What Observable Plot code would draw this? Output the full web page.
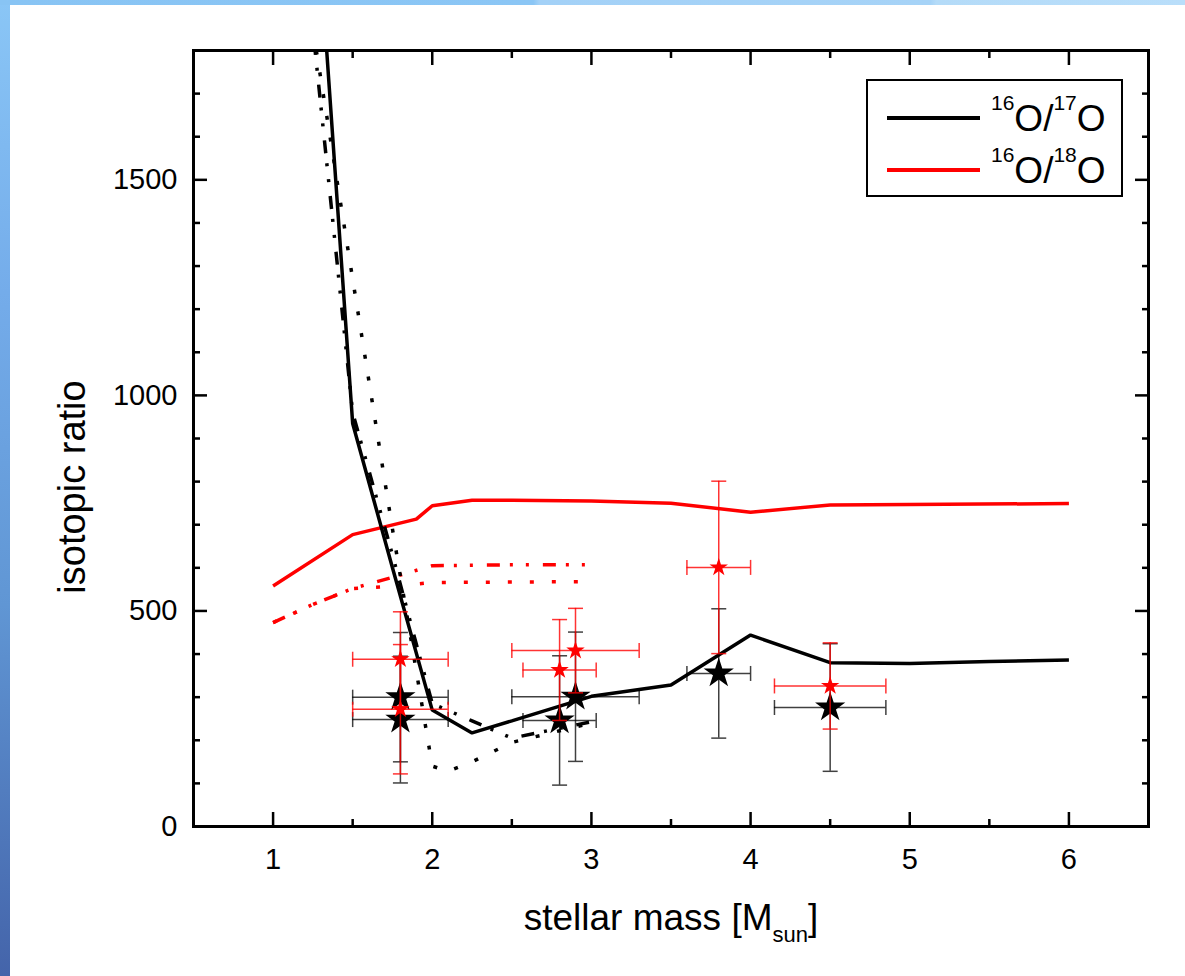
<!DOCTYPE html>
<html><head><meta charset="utf-8">
<script src="https://cdn.jsdelivr.net/npm/d3@7"></script>
<script src="https://cdn.jsdelivr.net/npm/@observablehq/plot@0.6"></script>
<style>
html,body{margin:0;padding:0;background:#fff;width:1185px;height:976px;overflow:hidden;}
#wrap{position:relative;width:1185px;height:976px;}
#chart{position:absolute;left:0;top:0;}
#overlay{position:absolute;left:0;top:0;}
#leftband{position:absolute;left:0;top:0;width:10px;height:976px;background:linear-gradient(#8ac6f6 0%,#74acea 30%,#6096d4 62%,#4464aa 100%);}
#topband{position:absolute;left:0;top:0;width:1185px;height:5px;background:linear-gradient(90deg,#88c4f4 0%,#8bc6f5 45%,#a3d1f7 45.5%,#a6d3f7 78.5%,#b4dbf8 79%,#b9defa 100%);}
</style></head>
<body><div id="wrap"><div id="chart"></div>
<svg id="overlay" width="1185" height="976" font-family="'Liberation Sans', Arial, sans-serif">
  <text x="671" y="930" font-size="37" text-anchor="middle">stellar mass [M<tspan font-size="22" dy="12">sun</tspan><tspan dy="-12">]</tspan></text>
  <text transform="translate(85,487) rotate(-90)" font-size="38" text-anchor="middle">isotopic ratio</text>
  <rect x="867" y="80" width="255" height="116" fill="#fff" stroke="#000" stroke-width="2"></rect>
  <line x1="887" x2="980" y1="118" y2="118" stroke="#000" stroke-width="4"></line>
  <line x1="887" x2="980" y1="170" y2="170" stroke="#ff0000" stroke-width="4"></line>
  <text x="991" y="131" font-size="37"><tspan font-size="21" dy="-21">16</tspan><tspan dy="21">O/</tspan><tspan font-size="21" dy="-21">17</tspan><tspan dy="21">O</tspan></text>
  <text x="991" y="183" font-size="37"><tspan font-size="21" dy="-21">16</tspan><tspan dy="21">O/</tspan><tspan font-size="21" dy="-21">18</tspan><tspan dy="21">O</tspan></text>
</svg>
<div id="leftband"></div><div id="topband"></div>
</div>
<script>
// ---- axis ticks ----
const xMajor = [1, 2, 3, 4, 5, 6];
const xMinor = [1.5, 2.5, 3.5, 4.5, 5.5];
const yMajor = [0, 500, 1000, 1500];
const yMinor = [100, 200, 300, 400, 600, 700, 800, 900, 1100, 1200, 1300, 1400, 1600, 1700];

// ---- 16O/17O model curves (black) ----
const solid17Mass = [1.25, 1.5, 1.75, 2.0, 2.25, 2.5, 3.0, 3.5, 4.0, 4.5, 5.0, 5.5, 6.0];
const solid17 = [2260, 935, 600, 270, 217, 245, 302, 328, 444, 380, 378, 383, 386];
const dashdot17Mass = [1.25, 1.5, 1.75, 2.0, 2.25, 2.5, 3.0];
const dashdot17 = [1850, 960, 630, 285, 245, 205, 243];
const dotted17Mass = [1.25, 1.5, 1.75, 2.0, 2.1, 2.25, 2.5, 3.0];
const dotted17 = [1850, 1270, 690, 140, 128, 150, 195, 240];

// ---- 16O/18O model curves (red) ----
const solid18Mass = [1.0, 1.5, 1.9, 2.0, 2.25, 2.5, 3.0, 3.5, 4.0, 4.5, 5.0, 6.0];
const solid18 = [558, 677, 713, 744, 757, 757, 755, 750, 729, 746, 747, 749];
const dashdot18Mass = [1.0, 1.25, 1.5, 1.75, 2.0, 2.5, 3.0];
const dashdot18 = [473, 515, 552, 578, 605, 607, 607];
const dotted18Mass = [1.0, 1.25, 1.5, 1.75, 2.0, 2.5, 3.0];
const dotted18 = [473, 515, 552, 557, 566, 567, 568];

// ---- observations (stars with error bars) ----
const obsMass = [1.8, 1.8, 2.8, 2.9, 3.8, 4.5];
const obsMassErr = [0.3, 0.3, 0.23, 0.4, 0.2, 0.35];
const obs17 = [300, 248, 246, 301, 355, 276];
const obs17Err = [150, 147, 150, 150, 150, 148];
const obs18 = [388, 272, 363, 408, 601, 326];
const obs18Err = [110, 150, 117, 98, 200, 100];

const toPts = (ms, vs) => ms.map((m, i) => ({m, v: vs[i]}));
const toObs = (vs, es) => obsMass.map((m, i) => ({m, v: vs[i], lo: vs[i] - es[i], hi: vs[i] + es[i], mlo: m - obsMassErr[i], mhi: m + obsMassErr[i]}));
const black = toObs(obs17, obs17Err);
const red = toObs(obs18, obs18Err);

const hcap = {draw(ctx, size) { const h = Math.sqrt(size / Math.PI); ctx.moveTo(-h, 0); ctx.lineTo(h, 0); }};
const vcap = {draw(ctx, size) { const h = Math.sqrt(size / Math.PI); ctx.moveTo(0, -h); ctx.lineTo(0, h); }};

const DASHDOT = "13 10 3 13 3 14";
const DOT = "4 18";
const LW = 3.5;
const lineOpts = (ms, vs, color, dash) => Plot.line(toPts(ms, vs), {
  x: "m", y: "v", stroke: color, strokeWidth: LW, strokeDasharray: dash, strokeLinecap: "butt", strokeLinejoin: "miter", clip: true
});

function errorMarks(data, color, op, starR) {
  return [
    Plot.ruleX(data, {x: "m", y1: "lo", y2: "hi", stroke: color, strokeWidth: 1.5, strokeOpacity: op}),
    Plot.ruleY(data, {y: "v", x1: "mlo", x2: "mhi", stroke: color, strokeWidth: 1.5, strokeOpacity: op}),
    Plot.dot(data, {x: "m", y: "hi", symbol: hcap, r: 7.5, stroke: color, fill: "none", strokeWidth: 1.5, strokeOpacity: op}),
    Plot.dot(data, {x: "m", y: "lo", symbol: hcap, r: 7.5, stroke: color, fill: "none", strokeWidth: 1.5, strokeOpacity: op}),
    Plot.dot(data, {x: "mlo", y: "v", symbol: vcap, r: 7.5, stroke: color, fill: "none", strokeWidth: 1.5, strokeOpacity: op}),
    Plot.dot(data, {x: "mhi", y: "v", symbol: vcap, r: 7.5, stroke: color, fill: "none", strokeWidth: 1.5, strokeOpacity: op}),
    Plot.dot(data, {x: "m", y: "v", symbol: "star", r: starR, fill: color, stroke: "none"})
  ];
}

const chart = Plot.plot({
  width: 1185, height: 976,
  marginLeft: 193, marginRight: 37, marginTop: 50, marginBottom: 150,
  style: {fontFamily: "'Liberation Sans', Arial, sans-serif", fontSize: "29px", color: "#000", background: "transparent"},
  x: {domain: [0.5, 6.5]},
  y: {domain: [0, 1800]},
  marks: [
    lineOpts(solid18Mass, solid18, "#ff0000", null),
    lineOpts(dashdot18Mass, dashdot18, "#ff0000", DASHDOT),
    lineOpts(dotted18Mass, dotted18, "#ff0000", DOT),
    lineOpts(dotted17Mass, dotted17, "#000", DOT),
    lineOpts(dashdot17Mass, dashdot17, "#000", DASHDOT),
    lineOpts(solid17Mass, solid17, "#000", null),
    ...errorMarks(black, "#000", 0.75, 9.5),
    ...errorMarks(red, "#ff0000", 0.8, 5.8),
    // inward ticks on all four sides
    Plot.axisX({anchor: "bottom", ticks: xMajor, tickSize: -14, strokeWidth: 2.5, text: null, label: null}),
    Plot.axisX({anchor: "bottom", ticks: xMinor, tickSize: -7, strokeWidth: 2.5, text: null, label: null}),
    Plot.axisX({anchor: "top", ticks: xMajor, tickSize: -14, strokeWidth: 2.5, text: null, label: null}),
    Plot.axisX({anchor: "top", ticks: xMinor, tickSize: -7, strokeWidth: 2.5, text: null, label: null}),
    Plot.axisY({anchor: "left", ticks: yMajor, tickSize: -14, strokeWidth: 2.5, text: null, label: null}),
    Plot.axisY({anchor: "left", ticks: yMinor, tickSize: -7, strokeWidth: 2.5, text: null, label: null}),
    Plot.axisY({anchor: "right", ticks: yMajor, tickSize: -14, strokeWidth: 2.5, text: null, label: null}),
    Plot.axisY({anchor: "right", ticks: yMinor, tickSize: -7, strokeWidth: 2.5, text: null, label: null}),
    // tick labels
    Plot.axisX({anchor: "bottom", ticks: xMajor, tickSize: 0, tickPadding: 22, tickFormat: d => String(d), label: null}),
    Plot.axisY({anchor: "left", ticks: yMajor, tickSize: 0, tickPadding: 16, tickFormat: d => String(d), label: null}),
    Plot.frame({stroke: "#000", strokeWidth: 3})
  ]
});
document.getElementById("chart").appendChild(chart);
</script>
</body></html>
